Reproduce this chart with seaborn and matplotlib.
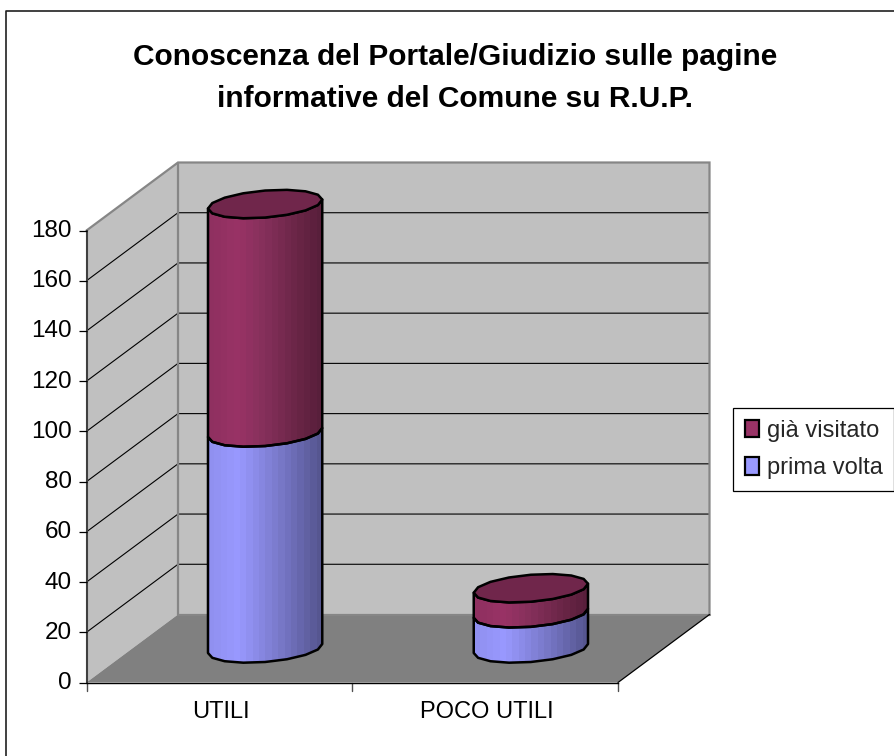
import numpy as np
import pandas as pd
import seaborn as sns
import matplotlib
matplotlib.use("Agg")
import matplotlib.pyplot as plt
from matplotlib.colors import LinearSegmentedColormap
from matplotlib.lines import Line2D
from matplotlib.patches import Patch, Polygon
from matplotlib.transforms import ScaledTranslation

# ------------------------------
# Data
# ------------------------------
categories = ["UTILI", "POCO UTILI"]
prima_volta = [86, 14]
gia_visitato = [91, 10]
y_ticks = [0, 20, 40, 60, 80, 100, 120, 140, 160, 180]
title = "Conoscenza del Portale/Giudizio sulle pagine\ninformative del Comune su R.U.P."

sns.set_style("white")
plt.rcParams["font.family"] = ["Liberation Sans", "DejaVu Sans"]

W, H = 894, 756
fig = plt.figure(figsize=(W / 100, H / 100), dpi=100, facecolor="white")

# front plane of the fake 3D box, in figure pixels
ax = fig.add_axes([86.5 / W, (H - 682.5) / H, 531.5 / W, 452 / H])
ax.patch.set_visible(False)

df = pd.DataFrame({"cat": categories, "prima": prima_volta, "gia": gia_visitato})
df["totale"] = df["prima"] + df["gia"]

# bars give the geometry, the cylinders are then drawn over them
sns.barplot(data=df, x="cat", y="totale", order=categories, width=0.43, ax=ax, errorbar=None)
sns.barplot(data=df, x="cat", y="prima", order=categories, width=0.43, ax=ax, errorbar=None)
ax.set_xlim(-0.5, 1.5)
ax.set_ylim(0, 180)
ax.set_xlabel("")
ax.set_ylabel("")

# depth of the box in data units
dx = 91.5 / (531.5 / 2)
dy = 68 / (452 / 180)
x0, x1 = -0.5, 1.5
ymax = 180

WALL = "#C0C0C0"
FLOOR = "#808080"
EDGE = "#868686"


def poly(pts, **kw):
    p = Polygon(pts, closed=True, clip_on=False, **kw)
    ax.add_patch(p)
    return p


# walls and floor
poly([(x0, 0), (x0 + dx, dy), (x0 + dx, ymax + dy), (x0, ymax)], fc=WALL, ec="none", zorder=0.1)
poly([(x0 + dx, dy), (x1 + dx, dy), (x1 + dx, ymax + dy), (x0 + dx, ymax + dy)], fc=WALL, ec="none", zorder=0.1)
poly([(x0, 0), (x1, 0), (x1 + dx, dy), (x0 + dx, dy)], fc=FLOOR, ec="none", zorder=0.2)

# gridlines on both walls
for t in y_ticks[1:-1]:
    ax.plot([x0, x0 + dx, x1 + dx], [t, t + dy, t + dy], color="black", lw=0.8, clip_on=False, zorder=0.3)
ax.plot([x0, x0 + dx, x1 + dx, x1 + dx], [ymax, ymax + dy, ymax + dy, dy], color=EDGE, lw=1.6,
        clip_on=False, zorder=0.4, solid_joinstyle="miter")
ax.plot([x0 + dx, x0 + dx, x1 + dx], [ymax + dy, dy, dy], color=EDGE, lw=1.6, clip_on=False, zorder=0.4)
ax.plot([x1, x1 + dx], [0, dy], color="black", lw=0.9, clip_on=False, zorder=0.4)

# ------------------------------
# Cylinders
# ------------------------------
blue_cmap = LinearSegmentedColormap.from_list("b", ["#9090F0", "#9999FF", "#8484DC", "#6E6EB8", "#565690"])
red_cmap = LinearSegmentedColormap.from_list("r", ["#8F3060", "#993366", "#84305A", "#6E2749", "#581F3B"])
band = np.linspace(0, 1, 18).reshape(1, -1)

ell_b = 13.5 / (452 / 180)   # half height of the ellipse
ell_k = 4.5 / (452 / 180)    # tilt of the ellipse


def ellipse_pts(cx, a, cy, t):
    return np.column_stack([cx + a * np.cos(t), cy + ell_b * np.sin(t) + ell_k * np.cos(t)])


def draw_segment(cx, a, y0, y1, cmap, top_color=None):
    front = np.linspace(np.pi, 2 * np.pi, 9)
    low = ellipse_pts(cx, a, y0, front)
    high = ellipse_pts(cx, a, y1, front[::-1])
    outline = poly(np.vstack([low, high]), fc="none", ec="black", lw=1.8, zorder=3.2, joinstyle="round")
    im = ax.imshow(band, cmap=cmap, aspect="auto", interpolation="nearest",
                   extent=(cx - a, cx + a, y0 - 8, y1 + 8), zorder=3)
    im.set_clip_path(outline)
    im.set_clip_box(fig.bbox)
    if top_color is not None:
        t = np.linspace(0, 2 * np.pi, 17)[:-1]
        poly(ellipse_pts(cx, a, y1, t), fc=top_color, ec="black", lw=1.8, zorder=3.4, joinstyle="round")


n = len(categories)
tot_bars = ax.patches[:n]
low_bars = ax.patches[n:2 * n]
for tot, low in zip(tot_bars, low_bars):
    a = tot.get_width() / 2
    cx = tot.get_x() + a + dx / 2
    base = dy / 2
    draw_segment(cx, a, base, base + low.get_height(), blue_cmap)
    draw_segment(cx, a, base + low.get_height(), base + tot.get_height(), red_cmap, top_color="#70264B")
    tot.set_visible(False)
    low.set_visible(False)
ax.set_xlim(-0.5, 1.5)
ax.set_ylim(0, 180)

# ------------------------------
# Axes, ticks, text
# ------------------------------
sns.despine(ax=ax, top=True, right=True)
ax.spines["left"].set_color("#404040")
ax.spines["left"].set_linewidth(1.5)
ax.spines["left"].set_zorder(0.5)
ax.spines["bottom"].set_color("black")
ax.spines["bottom"].set_linewidth(1.0)
ax.spines["bottom"].set_zorder(0.5)

ax.set_yticks(y_ticks)
ax.tick_params(axis="y", length=6, width=0.9, color="black", left=True, labelsize=17.5, pad=4.5, labelcolor="black")
for lab in ax.get_yticklabels():
    lab.set_transform(lab.get_transform() + ScaledTranslation(0, 0.02, fig.dpi_scale_trans))
ax.set_xticks([0, 1])
ax.set_xticklabels(categories)
ax.tick_params(axis="x", length=0, labelsize=17, pad=13, labelcolor="black")
for lab in ax.get_xticklabels():
    lab.set_transform(lab.get_transform() + ScaledTranslation(0.015, 0, fig.dpi_scale_trans))
for b in [x0, 0.5, x1]:
    ax.plot([b, b], [0, -8 / (452 / 180)], color="#505050", lw=1.0, clip_on=False, zorder=0.5)

lines = title.split("\n")
fig.text(455 / W, 1 - 57 / H, lines[0], ha="center", va="center", fontsize=21.5, fontweight="bold", color="black")
fig.text(455 / W, 1 - 99 / H, lines[1], ha="center", va="center", fontsize=21.5, fontweight="bold", color="black")

# outer chart frame (runs off the picture on the right and at the bottom)
fig.add_artist(Line2D([6 / W, 6 / W, 1], [0, 1 - 10.5 / H, 1 - 10.5 / H], color="#202020", lw=1.2))

# legend
handles = [Patch(fc="#993366", ec="black", lw=1.6, label="già visitato"),
           Patch(fc="#9999FF", ec="black", lw=1.6, label="prima volta")]
leg = fig.legend(handles=handles, loc="center left", bbox_to_anchor=(733 / W, 1 - 449.5 / H),
                 frameon=True, fancybox=False, edgecolor="black", framealpha=1, fontsize=17,
                 handlelength=0.62, handleheight=0.75, handletextpad=0.3, labelspacing=0.66, borderpad=0.5,
                 borderaxespad=0)
leg.get_frame().set_linewidth(0.9)

fig.savefig("out.png", dpi=100)
